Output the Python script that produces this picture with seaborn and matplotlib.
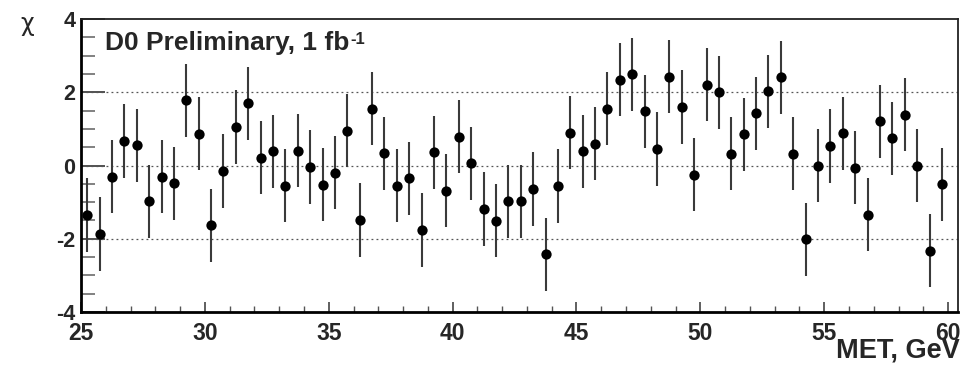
import numpy as np
import pandas as pd
import matplotlib
matplotlib.use("Agg")
import matplotlib.pyplot as plt
import seaborn as sns
from matplotlib.ticker import MultipleLocator, FixedLocator

# ---- data ----
met = [25.25 + 0.5 * i for i in range(70)]
chi = [-1.35, -1.87, -0.31, 0.67, 0.55, -0.98, -0.31, -0.49, 1.78, 0.87,
       -1.63, -0.15, 1.05, 1.70, 0.21, 0.39, -0.55, 0.40, -0.04, -0.52,
       -0.20, 0.95, -1.49, 1.55, 0.33, -0.55, -0.35, -1.76, 0.36, -0.69,
       0.79, 0.06, -1.19, -1.51, -0.98, -0.98, -0.64, -2.42, -0.56, 0.90,
       0.39, 0.60, 1.55, 2.34, 2.49, 1.48, 0.45, 2.43, 1.60, -0.25,
       2.21, 2.00, 0.32, 0.85, 1.43, 2.03, 2.41, 0.32, -2.02, 0.00,
       0.53, 0.88, -0.06, -1.34, 1.21, 0.74, 1.39, 0.00, -2.33, -0.51]
err = [1.0] * 70
y_ticks = [-4, -2, 0, 2, 4]
x_ticks = [25, 30, 35, 40, 45, 50, 55, 60]

df = pd.DataFrame({"met": met, "chi": chi, "err": err})

sns.set_style("white")
plt.rcParams['font.family'] = ['Liberation Sans', 'DejaVu Sans']
plt.rcParams['axes.unicode_minus'] = False

fig = plt.figure(figsize=(9.63, 3.65), dpi=100)
ax = fig.add_axes([81 / 963, 1 - 312 / 365, (958 - 81) / 963, (312 - 19) / 365])

ax.errorbar(df["met"], df["chi"], yerr=df["err"], fmt="none",
            ecolor="#3a3a3a", elinewidth=1.5, capsize=0, zorder=2)
sns.scatterplot(data=df, x="met", y="chi", ax=ax, color="black",
                s=55, marker="o", edgecolor="black", linewidth=0, zorder=3)

ax.set_xlim(25, 60.4)
ax.set_ylim(-4, 4)

for yv in [-2, 0, 2]:
    ax.axhline(yv, color="#555555", lw=0.9, ls=(0, (1.5, 2.5)), zorder=1)

ax.yaxis.set_major_locator(FixedLocator(y_ticks))
ax.yaxis.set_minor_locator(MultipleLocator(0.5))
ax.xaxis.set_major_locator(FixedLocator(x_ticks))
ax.xaxis.set_minor_locator(MultipleLocator(1))

ax.tick_params(axis="y", which="major", direction="in", length=17, width=1.3,
               color="#444444", labelsize=15.5, pad=4, left=True, right=False)
ax.tick_params(axis="y", which="minor", direction="in", length=10, width=1.3,
               color="#777777", left=True, right=False)
ax.tick_params(axis="x", which="major", direction="in", length=7, width=1.2,
               color="#444444", labelsize=16.5, pad=7, bottom=True, top=False)
ax.tick_params(axis="x", which="minor", direction="in", length=4, width=1.0,
               color="#555555", bottom=True, top=False)
for lab in ax.get_xticklabels() + ax.get_yticklabels():
    lab.set_fontweight("bold")

ax.set_xlabel("")
ax.set_ylabel("")

for side in ["left", "bottom"]:
    ax.spines[side].set_linewidth(2.0)
    ax.spines[side].set_color("black")
for side in ["top", "right"]:
    ax.spines[side].set_linewidth(1.3)
    ax.spines[side].set_color("#222222")

main = fig.text(105 / 963, 1 - 43 / 365, "D0 Preliminary, 1 fb",
                fontsize=19, fontweight="bold", ha="left", va="center")
ax.annotate("-1", xy=(1, 1), xycoords=main, xytext=(0.5, -1),
            textcoords="offset points", fontsize=12, fontweight="bold",
            ha="left", va="top")
fig.text(960 / 963, 1 - 357 / 365, "MET, GeV", fontsize=19.5, fontweight="bold",
         ha="right", va="baseline")
fig.text(27 / 963, 1 - 24 / 365, "χ", fontsize=17, ha="center", va="center",
         family=["DejaVu Sans"])

fig.savefig("out.png", dpi=100)
